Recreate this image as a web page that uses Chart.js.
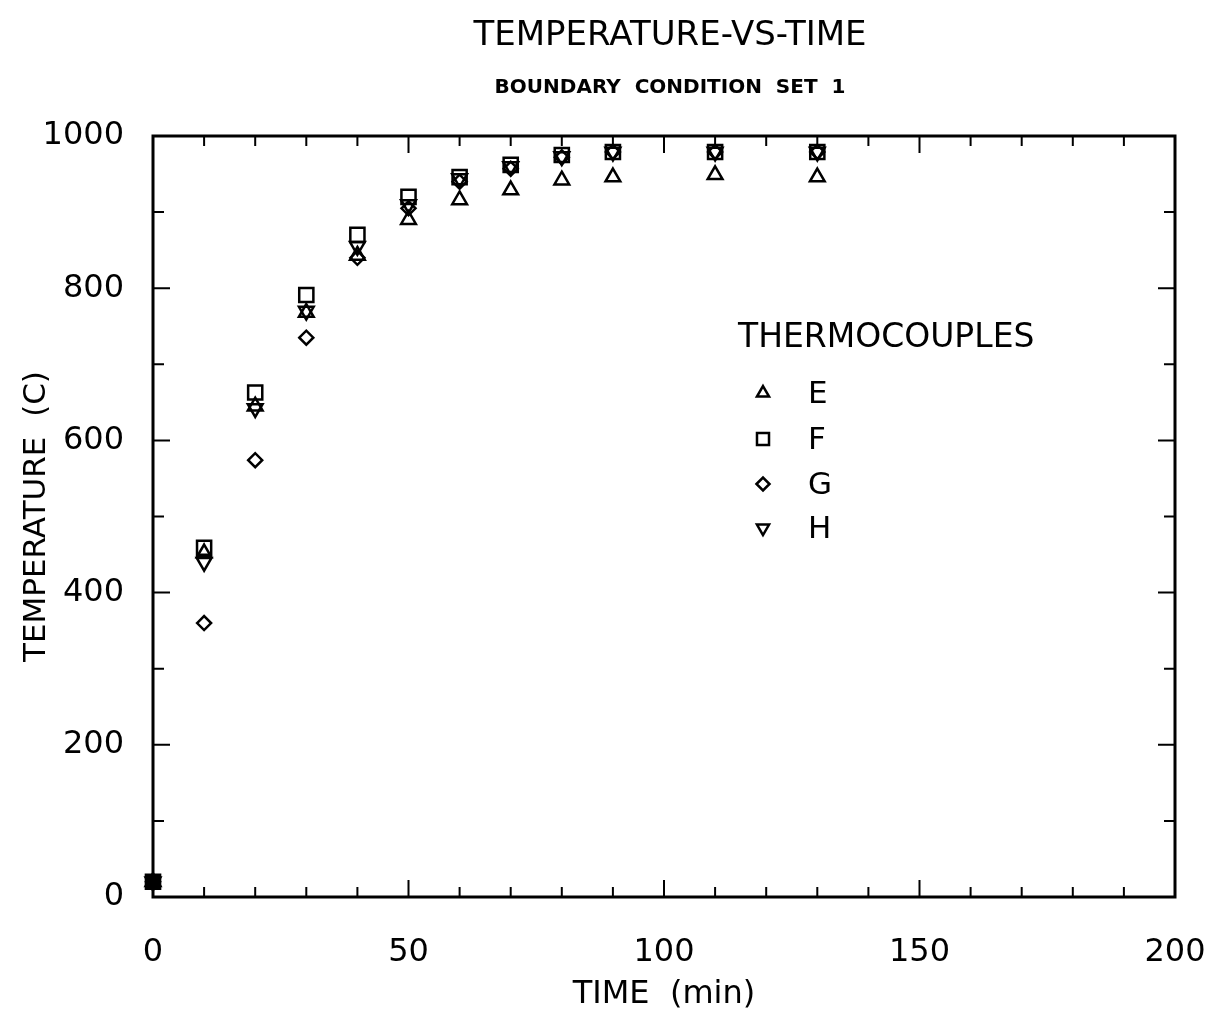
<!DOCTYPE html>
<html>
<head>
<meta charset="utf-8">
<script src="https://cdn.jsdelivr.net/npm/chart.js@4/dist/chart.umd.min.js"></script>
<style>
  html, body { margin: 0; padding: 0; background: #fff; }
  #wrap { width: 1217px; height: 1026px; }
</style>
</head>
<body>
<div id="wrap"><canvas id="tempChart"></canvas></div>
<script>
// values
const timeMin = [0, 10, 20, 30, 40, 50, 60, 70, 80, 90, 110, 130];
const tcE = [20, 452, 645, 768, 843, 890, 916, 929, 942, 946, 949, 946];
const tcF = [20, 459, 663, 791, 870, 920, 946, 962, 975, 979, 979, 979];
const tcG = [20, 360, 574, 735, 840, 905, 940, 957, 972, 979, 979, 979];
const tcH = [20, 440, 642, 770, 855, 910, 944, 960, 973, 979, 979, 979];
const seriesNames = ["E", "F", "G", "H"];
const xTicks = [0, 50, 100, 150, 200];
const yTicks = [0, 200, 400, 600, 800, 1000];

const FONT = '"DejaVu Sans", sans-serif';

const pts = (ys) => timeMin.map((t, i) => ({ x: t, y: ys[i] }));

// marker look per series
const markers = [
  { style: "triangle", radius: 8.5, rot: 0, legendR: 7 },
  { style: "rect", radius: 10, rot: 0, legendR: 8.5 },
  { style: "rectRot", radius: 7, rot: 0, legendR: 6.5 },
  { style: "triangle", radius: 8.5, rot: 180, legendR: 7 }
];

const makeSet = (name, ys, m) => ({
  label: name,
  data: pts(ys),
  pointStyle: m.style,
  pointRadius: m.radius,
  pointRotation: m.rot,
  pointBorderWidth: 2.5,
  pointBorderColor: "#000",
  pointBackgroundColor: (ctx) => (ctx.raw && ctx.raw.x === 0 ? "#000" : "rgba(0,0,0,0)"),
  showLine: false,
  clip: false
});

// frame, inward ticks, titles, legend
const decor = {
  id: "decor",
  afterDraw(chart) {
    const c = chart.ctx;
    const a = chart.chartArea;
    const xs = chart.scales.x, ys = chart.scales.y;
    c.save();
    c.strokeStyle = "#000";
    c.lineWidth = 3;
    c.strokeRect(a.left, a.top, a.right - a.left, a.bottom - a.top);

    c.lineWidth = 2;
    c.beginPath();
    for (let v = 0; v <= 200; v += 10) {
      const px = xs.getPixelForValue(v);
      const len = v % 50 === 0 ? 17 : 10;
      c.moveTo(px, a.bottom); c.lineTo(px, a.bottom - len);
      c.moveTo(px, a.top); c.lineTo(px, a.top + len);
    }
    for (let v = 0; v <= 1000; v += 100) {
      const py = ys.getPixelForValue(v);
      const len = v % 200 === 0 ? 17 : 11;
      c.moveTo(a.left, py); c.lineTo(a.left + len, py);
      c.moveTo(a.right, py); c.lineTo(a.right - len, py);
    }
    c.stroke();

    const cx = (a.left + a.right) / 2 + 6;
    c.fillStyle = "#000";
    c.textAlign = "center";
    c.textBaseline = "middle";
    c.font = "34px " + FONT;
    c.fillText("TEMPERATURE-VS-TIME", cx, 36);
    c.font = "bold 20px " + FONT;
    c.fillText("BOUNDARY  CONDITION  SET  1", cx, 88);

    // legend
    c.textAlign = "left";
    c.font = "33px " + FONT;
    c.fillText("THERMOCOUPLES", 738, 338);
    const rows = [393, 439, 484, 528];
    chart.data.datasets.forEach((ds, i) => {
      const m = markers[i];
      c.lineWidth = 2.5;
      c.strokeStyle = "#000";
      c.fillStyle = "rgba(0,0,0,0)";
      Chart.helpers.drawPoint(c, { pointStyle: m.style, radius: m.legendR, rotation: m.rot, borderWidth: 2.5 }, 763, rows[i]);
      c.fillStyle = "#000";
      c.font = "31px " + FONT;
      c.fillText(ds.label, 808, rows[i] + 2);
    });
    c.restore();
  }
};

new Chart(document.getElementById("tempChart"), {
  type: "scatter",
  data: {
    datasets: [
      makeSet(seriesNames[0], tcE, markers[0]),
      makeSet(seriesNames[1], tcF, markers[1]),
      makeSet(seriesNames[2], tcG, markers[2]),
      makeSet(seriesNames[3], tcH, markers[3])
    ]
  },
  options: {
    responsive: true,
    maintainAspectRatio: false,
    animation: false,
    layout: { padding: { top: 136, right: 42, left: 0, bottom: 0 } },
    plugins: {
      legend: { display: false },
      tooltip: { enabled: false }
    },
    scales: {
      x: {
        type: "linear",
        min: 0,
        max: 200,
        afterBuildTicks: (s) => { s.ticks = xTicks.map((v) => ({ value: v })); },
        afterFit: (s) => { s.height = 129; s.paddingLeft = 0; s.paddingRight = 0; },
        grid: { display: false },
        border: { display: false },
        ticks: { color: "#000", padding: 28, maxRotation: 0, callback: (v) => String(v), font: { family: FONT, size: 32 } },
        title: {
          display: true,
          text: "TIME  (min)",
          color: "#000",
          font: { family: FONT, size: 32 },
          padding: { top: 0, bottom: 12 }
        }
      },
      y: {
        type: "linear",
        min: 0,
        max: 1000,
        afterBuildTicks: (s) => { s.ticks = yTicks.map((v) => ({ value: v })); },
        afterFit: (s) => { s.width = 153; s.paddingTop = 0; s.paddingBottom = 0; },
        grid: { display: false },
        border: { display: false },
        ticks: { color: "#000", padding: 21, callback: (v) => String(v), font: { family: FONT, size: 32 } },
        title: {
          display: true,
          text: "TEMPERATURE  (C)",
          color: "#000",
          font: { family: FONT, size: 31 },
          padding: 18
        }
      }
    }
  },
  plugins: [decor]
});
</script>
</body>
</html>
